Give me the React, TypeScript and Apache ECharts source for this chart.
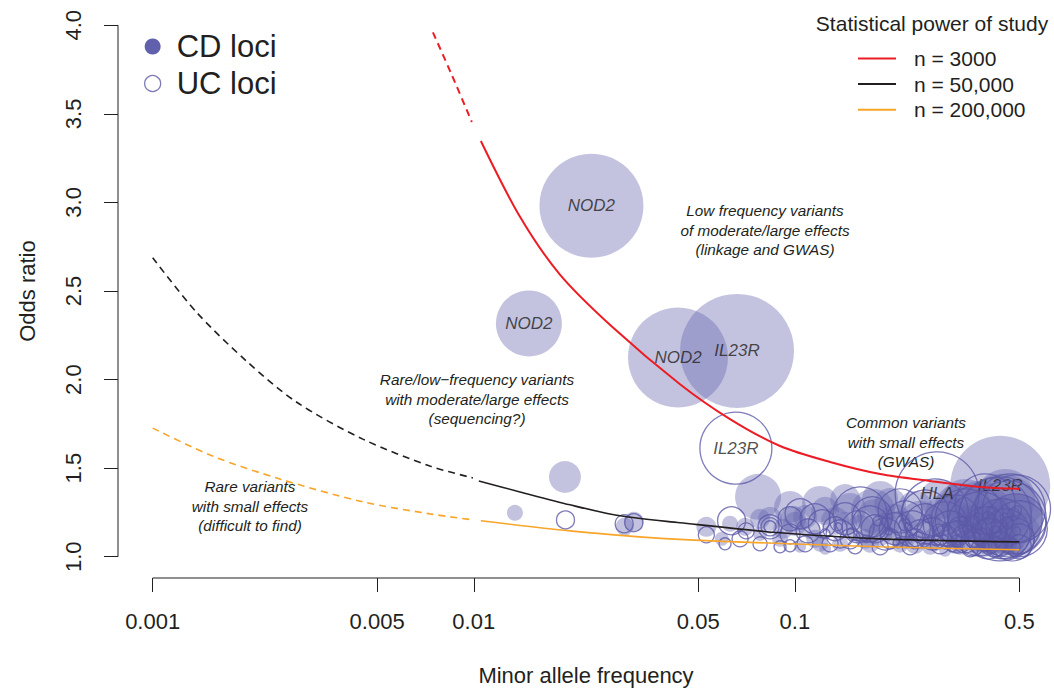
import React, { useEffect, useRef } from 'react';
import * as echarts from 'echarts';

// ---------- axis ticks ----------
const X_TICKS = [0.001, 0.005, 0.01, 0.05, 0.1, 0.5];
const X_TICK_LABELS = ['0.001', '0.005', '0.01', '0.05', '0.1', '0.5'];
const Y_TICKS = [1.0, 1.5, 2.0, 2.5, 3.0, 3.5, 4.0];

// ---------- loci: [minor allele frequency, odds ratio, bubble weight, gene] ----------
const CD_LOCI: [number, number, number, string?][] = [
  [0.01343, 1.248, 8],
  [0.01923, 1.45, 16],
  [0.01485, 2.317, 33, 'NOD2'],
  [0.02325, 2.981, 52, 'NOD2'],
  [0.04325, 2.125, 50, 'NOD2'],
  [0.06604, 2.162, 57, 'IL23R'],
  [0.0295, 1.17, 9],
  [0.0315, 1.197, 10],
  [0.053, 1.169, 10],
  [0.0768, 1.338, 23],
  [0.0592, 1.101, 7],
  [0.0628, 1.186, 8],
  [0.07, 1.169, 9],
  [0.0779, 1.129, 7],
  [0.0779, 1.214, 10],
  [0.0837, 1.214, 12],
  [0.0899, 1.101, 8],
  [0.092, 1.158, 10],
  [0.0966, 1.281, 16],
  [0.0987, 1.214, 13],
  [0.1, 1.186, 12],
  [0.1038, 1.056, 6],
  [0.1076, 1.225, 12],
  [0.1115, 1.158, 10],
  [0.1156, 1.101, 9],
  [0.1198, 1.073, 8],
  [0.1198, 1.298, 18],
  [0.1242, 1.259, 14],
  [0.1242, 1.045, 6],
  [0.1334, 1.203, 14],
  [0.1383, 1.073, 8],
  [0.1434, 1.186, 12],
  [0.1434, 1.326, 15],
  [0.1486, 1.27, 16],
  [0.1596, 1.158, 14],
  [0.1655, 1.101, 10],
  [0.1715, 1.073, 9],
  [0.175, 1.259, 22],
  [0.1778, 1.225, 18],
  [0.1843, 1.129, 12],
  [0.1843, 1.326, 18],
  [0.1912, 1.169, 14],
  [0.198, 1.298, 16],
  [0.2053, 1.214, 15],
  [0.2127, 1.068, 8],
  [0.2127, 1.158, 18],
  [0.2205, 1.101, 10],
  [0.237, 1.27, 18],
  [0.237, 1.073, 10],
  [0.2455, 1.203, 20],
  [0.2638, 1.158, 14],
  [0.2638, 1.056, 8],
  [0.2735, 1.101, 12],
  [0.2834, 1.326, 20],
  [0.2938, 1.242, 20],
  [0.2938, 1.034, 6],
  [0.3045, 1.214, 22],
  [0.3157, 1.129, 14],
  [0.3157, 1.073, 10],
  [0.3272, 1.056, 8],
  [0.3272, 1.27, 26],
  [0.3392, 1.298, 25],
  [0.3515, 1.158, 24],
  [0.3645, 1.186, 18],
  [0.3645, 1.034, 6],
  [0.3777, 1.259, 30],
  [0.3915, 1.101, 12],
  [0.3915, 1.056, 10],
  [0.4057, 1.073, 10],
  [0.4057, 1.169, 28],
  [0.4207, 1.186, 22],
  [0.4359, 1.4, 50, 'IL23R'],
  [0.4359, 1.101, 18],
  [0.442, 1.242, 40],
  [0.452, 1.326, 30],
  [0.452, 1.073, 12],
  [0.4684, 1.129, 18],
  [0.475, 1.186, 30],
  [0.488, 1.045, 8],
  [0.497, 1.214, 25],
  [0.497, 1.129, 22],
];

const UC_LOCI: [number, number, number, string?][] = [
  [0.0193, 1.208, 9],
  [0.0294, 1.186, 9],
  [0.0315, 1.192, 9],
  [0.053, 1.124, 8],
  [0.0606, 1.073, 6],
  [0.0635, 1.203, 14],
  [0.0655, 1.613, 36, 'IL23R'],
  [0.0675, 1.101, 8],
  [0.0705, 1.146, 8],
  [0.0779, 1.073, 7],
  [0.0837, 1.169, 6],
  [0.0837, 1.169, 9],
  [0.0837, 1.169, 12],
  [0.0899, 1.056, 6],
  [0.0966, 1.129, 10],
  [0.0966, 1.062, 6],
  [0.0966, 1.214, 12],
  [0.1038, 1.242, 15],
  [0.1076, 1.073, 8],
  [0.1099, 1.146, 12],
  [0.1156, 1.214, 15],
  [0.1217, 1.186, 14],
  [0.1287, 1.073, 8],
  [0.1334, 1.158, 12],
  [0.1383, 1.129, 14],
  [0.1434, 1.214, 16],
  [0.1486, 1.101, 10],
  [0.154, 1.056, 7],
  [0.1573, 1.169, 16],
  [0.1596, 1.242, 27],
  [0.1715, 1.186, 18],
  [0.174, 1.225, 20],
  [0.1778, 1.158, 14],
  [0.1843, 1.056, 8],
  [0.1912, 1.129, 16],
  [0.198, 1.101, 10],
  [0.2053, 1.158, 16],
  [0.2127, 1.259, 22],
  [0.2205, 1.214, 18],
  [0.2286, 1.056, 8],
  [0.2321, 1.158, 18],
  [0.237, 1.101, 10],
  [0.2455, 1.129, 14],
  [0.2545, 1.186, 20],
  [0.2545, 1.242, 24],
  [0.268, 1.129, 16],
  [0.2735, 1.253, 33],
  [0.2773, 1.355, 42, 'HLA'],
  [0.2834, 1.073, 10],
  [0.2938, 1.112, 12],
  [0.2938, 1.186, 22],
  [0.3045, 1.158, 18],
  [0.3157, 1.214, 24],
  [0.3226, 1.112, 16],
  [0.3272, 1.158, 12],
  [0.3392, 1.101, 14],
  [0.3392, 1.214, 30],
  [0.3515, 1.045, 8],
  [0.3568, 1.073, 12],
  [0.3645, 1.242, 28],
  [0.3645, 1.101, 10],
  [0.3777, 1.186, 32],
  [0.3915, 1.158, 22],
  [0.3915, 1.298, 30],
  [0.4, 1.101, 20],
  [0.4057, 1.129, 16],
  [0.4207, 1.056, 10],
  [0.4207, 1.242, 36],
  [0.4359, 1.214, 42],
  [0.4359, 1.073, 12],
  [0.442, 1.158, 30],
  [0.452, 1.129, 25],
  [0.4618, 1.214, 38],
  [0.4684, 1.27, 35],
  [0.475, 1.056, 8],
  [0.475, 1.101, 22],
  [0.488, 1.186, 30],
  [0.49, 1.27, 34],
  [0.5, 1.101, 15],
  [0.5, 1.158, 28],
  [0.5, 1.056, 12],
  [0.1242, 1.129, 5],
  [0.1363, 1.169, 4],
  [0.1507, 1.135, 5],
  [0.1667, 1.101, 4],
  [0.1814, 1.203, 5],
  [0.196, 1.146, 4],
  [0.2097, 1.079, 5],
  [0.22, 1.18, 6],
  [0.2254, 1.169, 4],
  [0.242, 1.112, 5],
  [0.26, 1.214, 4],
  [0.2754, 1.09, 5],
  [0.28, 1.15, 6],
  [0.296, 1.169, 4],
  [0.309, 1.056, 5],
  [0.32, 1.09, 6],
  [0.332, 1.203, 4],
  [0.3464, 1.124, 5],
  [0.36, 1.2, 6],
  [0.3723, 1.169, 4],
  [0.38, 1.13, 6],
  [0.3887, 1.056, 5],
  [0.4, 1.22, 6],
  [0.4112, 1.214, 4],
  [0.42, 1.14, 6],
  [0.4298, 1.112, 5],
  [0.44, 1.07, 6],
  [0.4488, 1.169, 4],
  [0.46, 1.19, 6],
  [0.4684, 1.09, 5],
  [0.48, 1.24, 6],
  [0.49, 1.146, 4],
  [0.49, 1.259, 5],
  [0.4488, 1.225, 4],
  [0.4112, 1.259, 5],
  [0.3723, 1.225, 4],
];

// ---------- power curves: [MAF, odds ratio] ----------
const RED_DASH: [number, number][] = [[0.00746, 3.96], [0.00855, 3.718], [0.00986, 3.454]];
const RED_SOLID: [number, number][] = [
  [0.01052, 3.347], [0.01393, 2.919], [0.01855, 2.593], [0.02713, 2.294], [0.04388, 1.974],
  [0.0628, 1.777], [0.0899, 1.625], [0.1287, 1.535], [0.1843, 1.467], [0.2638, 1.428],
  [0.3777, 1.394], [0.5, 1.383],
];
const BLACK_DASH: [number, number][] = [
  [0.001, 2.688], [0.001371, 2.379], [0.001963, 2.103], [0.00281, 1.872], [0.004513, 1.664],
  [0.007298, 1.512], [0.00994, 1.445],
];
const BLACK_SOLID: [number, number][] = [
  [0.01037, 1.428], [0.01393, 1.366], [0.01993, 1.293], [0.02853, 1.231], [0.04388, 1.192],
  [0.0899, 1.135], [0.1843, 1.101], [0.5, 1.084],
];
const ORANGE_DASH: [number, number][] = [
  [0.001, 1.726], [0.001538, 1.568], [0.002487, 1.439], [0.004513, 1.31], [0.007298, 1.242],
  [0.00994, 1.208],
];
const ORANGE_SOLID: [number, number][] = [
  [0.01052, 1.203], [0.01993, 1.146], [0.04085, 1.101], [0.1843, 1.056], [0.5, 1.039],
];

const CURVE_NAMES = ['n = 3000', 'n = 50,000', 'n = 200,000'];
const LEGEND_TITLE = 'Statistical power of study';

const ANNOTATIONS = [
  { text: 'Low frequency variants\nof moderate/large effects\n(linkage and GWAS)', x: 765, y: 201 },
  { text: 'Rare/low\u2212frequency variants\nwith moderate/large effects\n(sequencing?)', x: 477, y: 370 },
  { text: 'Common variants\nwith small effects\n(GWAS)', x: 906, y: 413 },
  { text: 'Rare variants\nwith small effects\n(difficult to find)', x: 250, y: 477 },
];

const FONT = '"Liberation Sans", Arial, Helvetica, sans-serif';
const INK = '#231f20';
const PURPLE = '#5c5aa8';
const RED = '#ec1c24';
const ORANGE = '#f8a529';

const L = Math.log10;
const PAD = 0.04;
const X_LO = L(X_TICKS[0]);
const X_HI = L(X_TICKS[X_TICKS.length - 1]);
const X_MIN = X_LO - PAD * (X_HI - X_LO);
const X_MAX = X_HI + PAD * (X_HI - X_LO);
const Y_LO = Y_TICKS[0];
const Y_HI = Y_TICKS[Y_TICKS.length - 1];
const Y_MIN = Y_LO - PAD * (Y_HI - Y_LO);
const Y_MAX = Y_HI + PAD * (Y_HI - Y_LO);

function curve(name: string, pts: [number, number][], color: string, width: number, dashed: boolean) {
  return {
    type: 'line',
    name,
    data: pts.map(([f, o]) => [L(f), o]),
    symbol: 'none',
    showSymbol: false,
    smooth: 0.3,
    silent: true,
    z: 4,
    lineStyle: { color, width, type: dashed ? [7, 5] : 'solid' },
    itemStyle: { color },
  };
}

function loci(name: string, rows: [number, number, number, string?][], filled: boolean) {
  return {
    type: 'scatter',
    name,
    data: rows.map((r) => [L(r[0]), r[1], r[2], r[3] || '']),
    symbol: 'circle',
    symbolSize: (v: any) => v[2] * 2,
    silent: true,
    z: filled ? 2 : 3,
    itemStyle: filled
      ? { color: 'rgba(103,101,177,0.49)' }
      : { color: 'rgba(0,0,0,0)', borderColor: PURPLE, borderWidth: 1.3 },
    label: {
      show: true,
      position: 'inside',
      formatter: (p: any) => p.data[3],
      fontStyle: 'italic',
      fontSize: 17,
      fontFamily: FONT,
      color: INK,
    },
    labelLayout: { hideOverlap: false },
  };
}

export default function App() {
  const ref = useRef<HTMLDivElement>(null);
  useEffect(() => {
    if (!ref.current) return;
    const chart = echarts.init(ref.current, undefined, { renderer: 'svg' });
    const option: any = {
      animation: false,
      backgroundColor: '#ffffff',
      textStyle: { fontFamily: FONT },
      grid: { left: 118, right: 0, top: 4, bottom: 112, containLabel: false },
      xAxis: {
        type: 'value',
        min: X_MIN,
        max: X_MAX,
        name: 'Minor allele frequency',
        nameLocation: 'middle',
        nameGap: 86,
        nameTextStyle: { fontSize: 22, color: INK, fontFamily: FONT, lineHeight: 22 },
        axisLine: { show: false },
        splitLine: { show: false },
        axisTick: {
          show: true,
          length: 14,
          customValues: X_TICKS.map(L),
          lineStyle: { color: INK, width: 1 },
        },
        axisLabel: {
          customValues: X_TICKS.map(L),
          margin: 32,
          fontSize: 22,
          lineHeight: 22,
          color: INK,
          fontFamily: FONT,
          formatter: (v: number) => {
            const i = X_TICKS.findIndex((t) => Math.abs(L(t) - v) < 1e-6);
            return i >= 0 ? X_TICK_LABELS[i] : '';
          },
        },
      },
      yAxis: {
        type: 'value',
        min: Y_MIN,
        max: Y_MAX,
        name: 'Odds ratio',
        nameLocation: 'middle',
        nameGap: 80,
        nameTextStyle: { fontSize: 22, color: INK, fontFamily: FONT, lineHeight: 22 },
        axisLine: { show: false },
        splitLine: { show: false },
        axisTick: {
          show: true,
          length: 14,
          customValues: Y_TICKS,
          lineStyle: { color: INK, width: 1 },
        },
        axisLabel: {
          customValues: Y_TICKS,
          rotate: 90,
          margin: 34,
          fontSize: 22,
          lineHeight: 22,
          color: INK,
          fontFamily: FONT,
          formatter: (v: number) => v.toFixed(1),
        },
      },
      legend: [
        {
          orient: 'vertical',
          left: 139,
          top: 26,
          itemWidth: 16,
          itemHeight: 16,
          itemGap: 6,
          icon: 'circle',
          selectedMode: false,
          textStyle: { fontSize: 31, lineHeight: 31, color: INK, fontFamily: FONT, padding: [0, 0, 0, 11] },
          data: [
            { name: 'CD loci', itemStyle: { color: '#6060ad', opacity: 1 } },
            { name: 'UC loci', itemStyle: { color: '#ffffff', borderColor: PURPLE, borderWidth: 1.3 } },
          ],
        },
        {
          orient: 'vertical',
          left: 853,
          top: 43,
          itemWidth: 38,
          itemHeight: 2,
          itemGap: 4.6,
          icon: 'rect',
          selectedMode: false,
          textStyle: { fontSize: 21, lineHeight: 21, color: INK, fontFamily: FONT, padding: [0, 0, 0, 13] },
          data: CURVE_NAMES,
        },
      ],
      graphic: [
        {
          type: 'text',
          x: 932,
          y: 23,
          silent: true,
          style: {
            text: LEGEND_TITLE,
            align: 'center',
            verticalAlign: 'middle',
            fontSize: 21,
            fontFamily: FONT,
            fill: INK,
          },
        },
        ...ANNOTATIONS.map((a) => ({
          type: 'text',
          x: a.x,
          y: a.y,
          silent: true,
          style: {
            text: a.text,
            align: 'center',
            verticalAlign: 'top',
            fontSize: 15.3,
            fontStyle: 'italic',
            fontFamily: FONT,
            lineHeight: 19.5,
            fill: INK,
          },
        })),
      ],
      series: [
        loci('CD loci', CD_LOCI, true),
        loci('UC loci', UC_LOCI, false),
        curve(CURVE_NAMES[0] + ' (extrapolated)', RED_DASH, RED, 2, true),
        curve(CURVE_NAMES[0], RED_SOLID, RED, 2, false),
        curve(CURVE_NAMES[1] + ' (extrapolated)', BLACK_DASH, INK, 1.6, true),
        curve(CURVE_NAMES[1], BLACK_SOLID, INK, 1.6, false),
        curve(CURVE_NAMES[2] + ' (extrapolated)', ORANGE_DASH, ORANGE, 1.6, true),
        curve(CURVE_NAMES[2], ORANGE_SOLID, ORANGE, 1.6, false),
        {
          type: 'line',
          name: 'x-axis',
          data: [[X_LO, Y_MIN], [X_HI, Y_MIN]],
          symbol: 'none',
          silent: true,
          clip: false,
          z: 5,
          lineStyle: { color: INK, width: 1 },
        },
        {
          type: 'line',
          name: 'y-axis',
          data: [[X_MIN, Y_LO], [X_MIN, Y_HI]],
          symbol: 'none',
          silent: true,
          clip: false,
          z: 5,
          lineStyle: { color: INK, width: 1 },
        },
      ],
    };
    chart.setOption(option);
    return () => chart.dispose();
  }, []);
  return (
    <div
      ref={ref}
      style={{ position: 'absolute', left: 0, top: 0, width: 1054, height: 691, background: '#fff' }}
    />
  );
}
